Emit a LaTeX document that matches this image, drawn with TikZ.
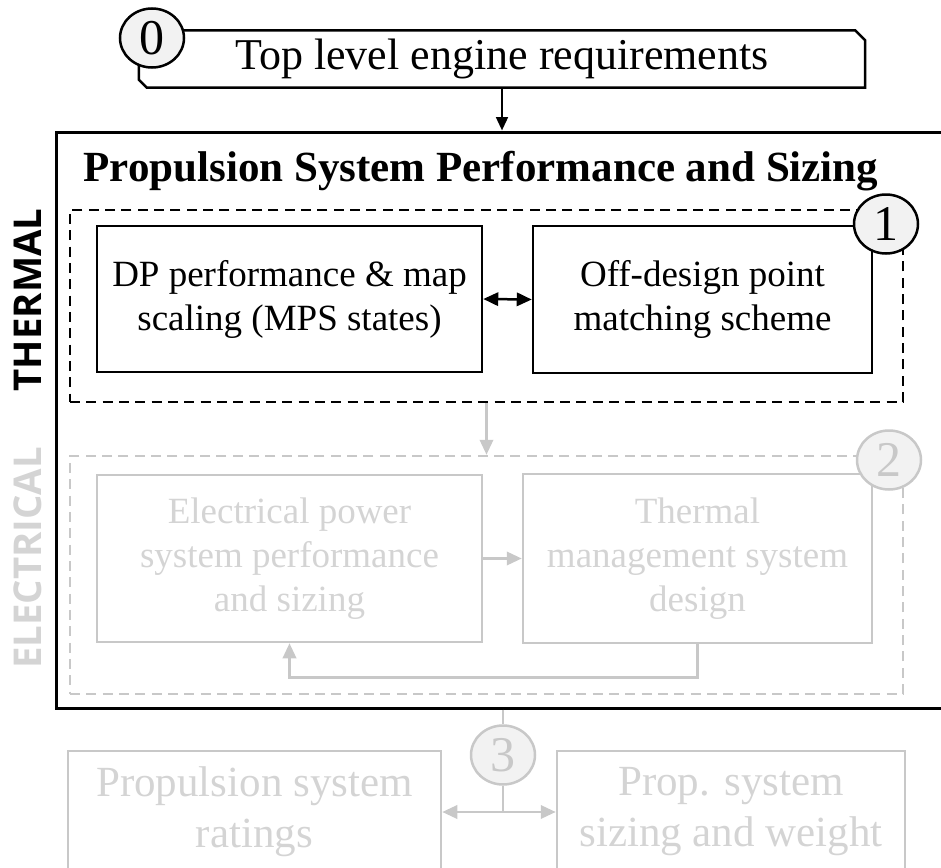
\documentclass[tikz,border=0pt]{standalone}
\usepackage{fontspec}
\setmainfont{Liberation Serif}
\newfontfamily\lateral{Open Sans}
\usetikzlibrary{arrows.meta,shapes.geometric,calc}
\definecolor{cgris}{HTML}{C8C8C8}
\definecolor{cgtexto}{HTML}{D4D4D4}
\definecolor{crelleno}{HTML}{F2F2F2}
\tikzset{
  bloque/.style={draw=black,line width=0.75pt,align=center,inner sep=0pt,
                 font=\fontsize{11.1}{13.2}\selectfont},
  bloqueg/.style={bloque,draw=cgris,text=cgtexto},
  bloqueb/.style={bloqueg,font=\fontsize{12.9}{15.3}\selectfont},
  grupo/.style={draw=black,line width=0.75pt,dash pattern=on 3pt off 1.9pt,inner sep=0pt},
  grupog/.style={grupo,draw=cgris},
  marco/.style={draw=black,line width=0.9pt,inner sep=0pt},
  num/.style={ellipse,draw=black,line width=0.75pt,fill=crelleno,inner sep=0pt,
              minimum width=19.2pt,minimum height=17.7pt,font=\fontsize{15}{15}\selectfont},
  numg/.style={num,draw=cgris,text=cgris},
  flecha/.style={-{Triangle[length=4.5pt,width=4pt]},draw=black,line width=0.75pt},
  flechad/.style={flecha,{Triangle[length=4.5pt,width=4pt]}-{Triangle[length=4.5pt,width=4pt]}},
  flechag/.style={flecha,draw=cgris},
  flechagd/.style={flechad,draw=cgris},
  lineag/.style={draw=cgris,line width=0.75pt},
  lado/.style={rotate=90,font=\lateral\bfseries\fontsize{11.5}{11.5}\selectfont},
}
\begin{document}
\begin{tikzpicture}[x=0.3pt,y=-0.3pt]
\useasboundingbox (0,0) rectangle (941,868);

% requisitos de partida
\node[inner sep=0pt,minimum width=217.5pt,minimum height=16.8pt,font=\fontsize{13.2}{15}\selectfont]
  (req) at (502,59) {Top level engine requirements};
\draw[line width=0.75pt] ($(req.north east)+(-10,0)$) -- ($(req.north east)+(0,10)$) -- (req.south east)
  -- ($(req.south west)+(8,0)$) -- ($(req.south west)+(0,-8)$) -- (req.north west) -- cycle;
\node[num] (c0) at (152,38) {0};

% marco principal
\node[marco,minimum width=267pt,minimum height=172.8pt] (marco) at (501,420) {};
\node[font=\bfseries\fontsize{12.9}{15}\selectfont] (tit) at (481,171)
  {Propulsion System Performance and Sizing};
\node[lado] (lt) at (28,300) {THERMAL};
\node[lado,text=cgtexto] (le) at (28,558) {ELECTRICAL};

% bloque termico
\node[grupo,minimum width=249.9pt,minimum height=57.6pt] (g1) at (486.5,306) {};
\node[bloque,minimum width=115.5pt,minimum height=43.8pt] (a1) at (289.5,299)
  {DP performance \& map\\scaling (MPS states)};
\node[bloque,minimum width=101.7pt,minimum height=44.1pt] (a2) at (702.5,299.5)
  {Off-design point\\matching scheme};
\node[num] (c1) at (886,224) {1};

% bloque electrico
\node[grupog,minimum width=249.9pt,minimum height=71.4pt] (g2) at (486.5,575) {};
\node[bloqueg,minimum width=115.5pt,minimum height=50.1pt] (b1) at (289.5,558.5)
  {Electrical power\\system performance\\and sizing};
\node[bloqueg,minimum width=104.7pt,minimum height=50.7pt] (b2) at (697.5,558.5)
  {Thermal\\management system\\design};
\node[numg] (c2) at (889,460) {2};

% salidas
\node[bloqueb,minimum width=111.9pt,minimum height=36.6pt] (d1) at (254.5,812)
  {Propulsion system\\ratings};
\node[bloqueb,minimum width=104.4pt,minimum height=36.6pt] (d2) at (731,812)
  {Prop. system\\sizing and weight};
\node[numg] (c3) at (503,755) {3};

\draw[flecha,-{Triangle[length=4pt,width=3.5pt]}] (req.south) -- (req.south |- marco.north);
\draw[flechad] (a1.east) -- (a2.west);
\draw[flechag] (g1.south) -- (g1.south |- g2.north);
\draw[flechag] (b1.east) -- (b2.west);
\draw[flechag] (b2.south) -- ++(0,33) -| (b1.south);
\draw[lineag] (c3 |- marco.south) -- (c3.north);
\draw[lineag] (c3.south) -- (c3.south |- d1.east);
\draw[flechagd] (d1.east) -- (d2.west);

\end{tikzpicture}
\end{document}
